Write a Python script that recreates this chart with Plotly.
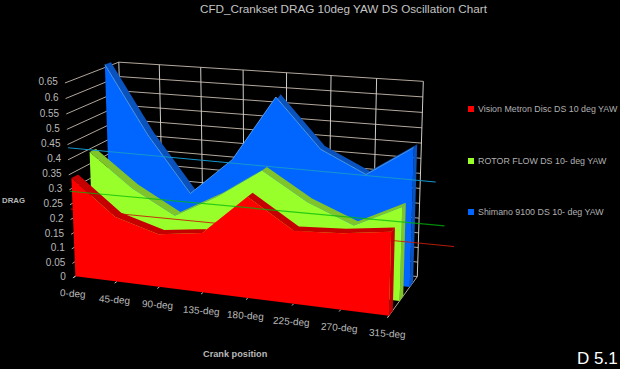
import numpy as np
import plotly.graph_objects as go

title = "CFD_Crankset DRAG 10deg YAW DS Oscillation Chart"
categories = ["0-deg", "45-deg", "90-deg", "135-deg", "180-deg", "225-deg", "270-deg", "315-deg"]
z_ticks = [0, 0.05, 0.1, 0.15, 0.2, 0.25, 0.3, 0.35, 0.4, 0.45, 0.5, 0.55, 0.6, 0.65]
vision = [0.335, 0.22, 0.177, 0.197, 0.33, 0.236, 0.245, 0.265]
rotor = [0.39, 0.28, 0.20, 0.28, 0.38, 0.29, 0.23, 0.305]
shimano = [0.66, 0.43, 0.24, 0.37, 0.59, 0.43, 0.36, 0.46]
trend_vision = [0.23, 0.24]
trend_rotor = [0.29, 0.30]
trend_shimano = [0.435, 0.43]
trend_ends = [8.25, 8.05, 7.85]
names = ["Vision Metron Disc DS 10 deg YAW", "ROTOR FLOW DS 10- deg YAW", "Shimano 9100 DS 10- deg YAW"]

# Camera calibration: (category, depth, value) -> picture position
world = [(0,0,0),(1,0,0),(2,0,0),(3,0,0),(4,0,0),(5,0,0),(6,0,0),(7,0,0),(7,1,0),(7,2,0),(7,2.8,0),
         (7,2.8,.65),(0,2.8,.65),(1,2.8,.65),(3,2.8,.65),(4,2.8,.65),(0,-.13,0),(0,-.13,.65)]
image = [(77,276),(117,281),(159,287),(203,293),(248,298),(293,304),(340,310),(390,315),(400,300),(410,287),(417,277),
         (423,82),(118,62),(160,65),(243,70),(287,72),(72,278),(65,83)]
A, b = [], []
for (X, Y, Z), (u, v) in zip(world, image):
    A.append([X, Y, Z, 1, 0, 0, 0, 0, -u*X, -u*Y, -u*Z]); b.append(u)
    A.append([0, 0, 0, 0, X, Y, Z, 1, -v*X, -v*Y, -v*Z]); b.append(v)
m = np.linalg.lstsq(np.array(A, float), np.array(b, float), rcond=None)[0]

def proj(X, Y, Z):
    w = m[8]*X + m[9]*Y + m[10]*Z + 1
    return (m[0]*X + m[1]*Y + m[2]*Z + m[3]) / w, (m[4]*X + m[5]*Y + m[6]*Z + m[7]) / w

FRONT, BACK, THICK = -0.13, 2.8, 0.35
fig = go.Figure()

def polys(paths, color):
    xs, ys = [], []
    for path in paths:
        for p in path:
            u, v = proj(*p); xs.append(u); ys.append(v)
        xs.append(None); ys.append(None)
    fig.add_trace(go.Scatter(x=xs, y=ys, mode="lines", line=dict(width=0), fill="toself",
                             fillcolor=color, hoverinfo="skip", showlegend=False))

def lines(paths, color, width):
    xs, ys = [], []
    for path in paths:
        for p in path:
            u, v = proj(*p); xs.append(u); ys.append(v)
        xs.append(None); ys.append(None)
    fig.add_trace(go.Scatter(x=xs, y=ys, mode="lines", line=dict(color=color, width=width),
                             hoverinfo="skip", showlegend=False))

n = len(categories)
GRID = "#b3a89c"
lines([[(0, FRONT, z), (0, BACK, z), (n-1, BACK, z)] for z in z_ticks], GRID, 1)
lines([[(i, BACK, 0), (i, BACK, z_ticks[-1])] for i in range(n)], "#d0cdc8", 1)
lines([[(n-1, FRONT, 0), (n-1, BACK, 0)]], GRID, 1)
lines([[(i, FRONT, 0), (i, 0, 0)] for i in range(n)], "#bbbbbb", 1)

def area(values, d, front, top):
    polys([[(i, d, values[i]), (i+1, d, values[i+1]), (i+1, d+THICK, values[i+1]), (i, d+THICK, values[i])]
           for i in range(n-1)], top)
    polys([[(n-1, d, 0), (n-1, d, values[-1]), (n-1, d+THICK, values[-1]), (n-1, d+THICK, 0)]], top)
    path = [(0, d, 0)] + [(i, d, values[i]) for i in range(n)] + [(n-1, d, 0)]
    polys([path], front)

def trend(vals, end, color, width=1):
    xs = [-0.05, end]
    u, v = zip(*[proj(x, 0, z) for x, z in zip(xs, vals)])
    fig.add_trace(go.Scatter(x=list(u), y=list(v), mode="lines", line=dict(color=color, width=width),
                             hoverinfo="skip", showlegend=False))

area(shimano, 2, "#0066ff", "#0a52bd")
lines([[(i, 2, shimano[i]) for i in range(n)]], "rgba(90,170,245,0.8)", 1)
area(rotor, 1, "#99ff2b", "#7fc42a")
trend(trend_vision, trend_ends[0], "rgba(200,30,10,0.9)")
area(vision, 0, "#ff0000", "#c40000")
trend(trend_shimano, trend_ends[2], "#1497cf")
trend(trend_rotor, trend_ends[1], "rgba(0,185,10,0.75)", 1.2)

ux, uy = zip(*[proj(0, FRONT, z) for z in z_ticks])
TICK_FONT = dict(family="Liberation Sans", size=10, color="#b8b8b8")
fig.add_trace(go.Scatter(x=[u - 7 for u in ux], y=list(uy), mode="text", text=[str(z) for z in z_ticks],
                         textposition="middle left", textfont=TICK_FONT,
                         hoverinfo="skip", showlegend=False))
for i, c in enumerate(categories):
    u, v = proj(i, FRONT, 0)
    fig.add_annotation(x=u, y=v + 16, text=c, showarrow=False, textangle=4, font=TICK_FONT)

colors = ["#ff0000", "#99ff2b", "#0066ff"]
for name, color, y in zip(names, colors, [109, 161, 212]):
    fig.add_trace(go.Scatter(x=[471], y=[y], mode="markers", name=name,
                             marker=dict(symbol="square", size=6, color=color), showlegend=False))
    fig.add_annotation(x=476, y=y, text=name, showarrow=False, xanchor="left",
                       font=dict(family="Liberation Sans", size=8.85, color="#b0b0b0"))

fig.add_annotation(x=344, y=8, text=title, showarrow=False, font=dict(family="Liberation Sans", size=11.7, color="#c4c4c4"))
fig.add_annotation(x=13, y=200, text="<b>DRAG</b>", showarrow=False, font=dict(family="Liberation Sans", size=7.8, color="#b8b8b8"))
fig.add_annotation(x=235, y=354, text="<b>Crank position</b>", showarrow=False, font=dict(family="Liberation Sans", size=9.2, color="#b8b8b8"))
fig.add_annotation(x=597, y=358, text="D 5.1", showarrow=False, font=dict(family="Liberation Sans", size=17, color="#ffffff"))

fig.update_layout(width=620, height=369, margin=dict(l=0, r=0, t=0, b=0), paper_bgcolor="black", plot_bgcolor="black",
                  xaxis=dict(range=[0, 620], visible=False, fixedrange=True),
                  yaxis=dict(range=[369, 0], visible=False, fixedrange=True), showlegend=False)
fig.write_html("out.html", config=dict(displayModeBar=False),
               post_script="document.body.style.margin='0';document.body.style.background='black';document.body.style.overflow='hidden';")
